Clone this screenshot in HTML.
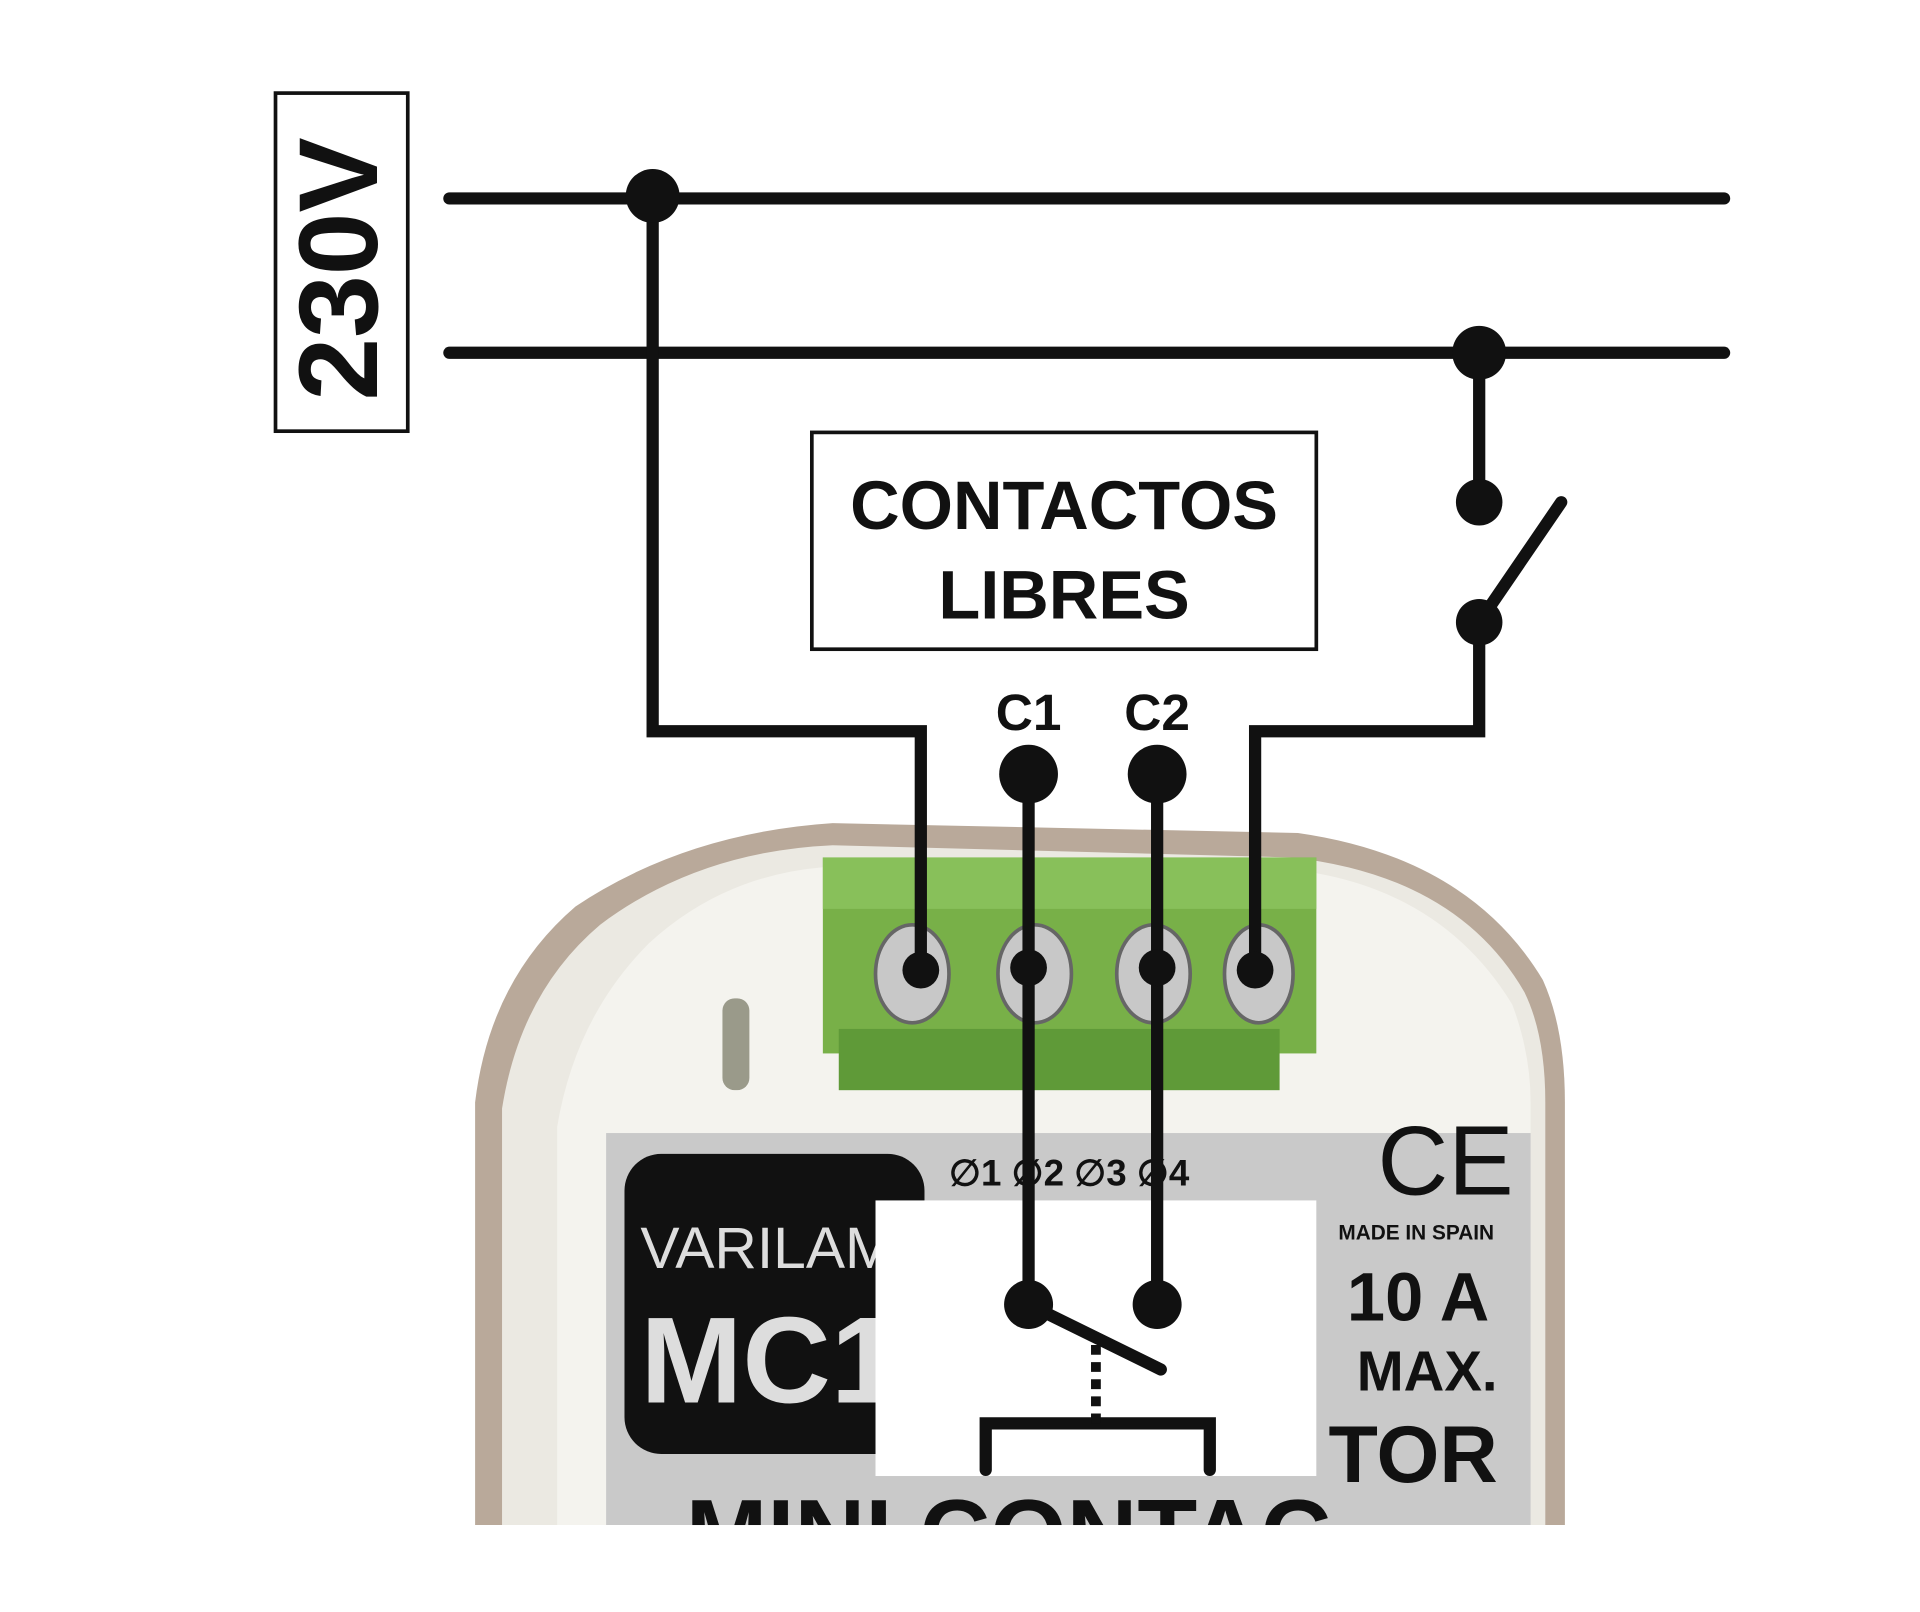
<!DOCTYPE html>
<html><head><meta charset="utf-8"><style>
html,body{margin:0;padding:0;background:#fff;}
svg{display:block;}
text{font-family:"Liberation Sans",sans-serif;font-weight:bold;}
</style></head><body>
<svg width="1920" height="1612" viewBox="0 0 1568 1316" preserveAspectRatio="none" xmlns="http://www.w3.org/2000/svg">
<rect width="1568" height="1316" fill="#fff"/>
<path d="M388 1245 L388 900 Q400 800 470 740 Q560 680 680 672 L1060 680 Q1200 700 1260 800 Q1278 840 1278 900 L1278 1245 Z" fill="#b9a99a"/>
<path d="M410 1245 L410 905 Q425 810 490 755 Q570 695 680 690 L1055 700 Q1190 715 1245 810 Q1262 845 1262 900 L1262 1245 Z" fill="#ebe9e2"/>
<path d="M455 1245 L455 920 Q470 830 530 770 Q590 715 672 708 L1070 712 Q1180 730 1235 820 Q1250 860 1250 900 L1250 1245 Z" fill="#f4f3ee"/>
<rect x="590" y="815" width="22" height="75" rx="10" fill="#9a9a8a"/>
<rect x="495" y="925" width="755" height="320" fill="#c9c9c9"/>
<rect x="510" y="942" width="245" height="245" rx="30" fill="#111"/>
<text x="523" y="1035" font-size="48" fill="#ddd" style="font-weight:normal">VARILAMP</text>
<text x="523" y="1145" font-size="100" fill="#ddd">MC1</text>
<text x="775" y="968" font-size="30" fill="#111">∅1 ∅2 ∅3 ∅4</text>
<text x="1125" y="975" font-size="80" fill="#111" style="font-weight:normal">CE</text>
<text x="1093" y="1012" font-size="17" fill="#111">MADE IN SPAIN</text>
<text x="1100" y="1078" font-size="56" fill="#111">10 A</text>
<text x="1108" y="1135" font-size="46" fill="#111">MAX.</text>
<text x="1085" y="1210" font-size="66" fill="#111">TOR</text>
<text x="560" y="1280" font-size="80" fill="#111">MINI CONTAC</text>
<rect x="0" y="1245" width="1568" height="71" fill="#fff"/>
<rect x="672" y="700" width="403" height="160" fill="#78b048"/>
<rect x="672" y="700" width="403" height="42" fill="#88c05a"/>
<rect x="685" y="840" width="360" height="50" fill="#5f9a38"/>
<g fill="#c8c8c8" stroke="#666" stroke-width="3">
<ellipse cx="745" cy="795" rx="30" ry="40"/>
<ellipse cx="845" cy="795" rx="30" ry="40"/>
<ellipse cx="942" cy="795" rx="30" ry="40"/>
<ellipse cx="1028" cy="795" rx="28" ry="40"/>
</g>
<rect x="715" y="980" width="360" height="225" fill="#fff"/>
<rect x="225" y="76" width="108" height="276" fill="#fff" stroke="#111" stroke-width="3"/>
<text transform="translate(308 327) rotate(-90)" font-size="92" fill="#111">230V</text>
<rect x="663" y="353" width="412" height="177" fill="#fff" stroke="#111" stroke-width="3"/>
<text x="869" y="432" font-size="56" text-anchor="middle" fill="#111">CONTACTOS</text>
<text x="869" y="505" font-size="56" text-anchor="middle" fill="#111">LIBRES</text>
<g stroke="#111" stroke-width="10" fill="none" stroke-linecap="round" stroke-linejoin="miter">
<line x1="367" y1="162" x2="1408" y2="162"/>
<line x1="367" y1="288" x2="1408" y2="288"/>
<polyline points="533,160 533,597 752,597 752,792"/>
<polyline points="1208,288 1208,410"/>
<line x1="1208" y1="508" x2="1275" y2="410"/>
<polyline points="1208,508 1208,597 1025,597 1025,792"/>
<line x1="840" y1="632" x2="840" y2="1065"/>
<line x1="945" y1="632" x2="945" y2="1065"/>
<line x1="840" y1="1065" x2="948" y2="1118"/>
<polyline points="805,1200 805,1162 988,1162 988,1200"/>
</g>
<line x1="895" y1="1098" x2="895" y2="1162" stroke="#111" stroke-width="8" stroke-dasharray="8,6"/>
<g fill="#111">
<circle cx="533" cy="160" r="22"/>
<circle cx="1208" cy="288" r="22"/>
<circle cx="1208" cy="410" r="19"/>
<circle cx="1208" cy="508" r="19"/>
<circle cx="840" cy="632" r="24"/>
<circle cx="945" cy="632" r="24"/>
<circle cx="752" cy="792" r="15"/>
<circle cx="840" cy="790" r="15"/>
<circle cx="945" cy="790" r="15"/>
<circle cx="1025" cy="792" r="15"/>
<circle cx="840" cy="1065" r="20"/>
<circle cx="945" cy="1065" r="20"/>
</g>
<text x="840" y="596" font-size="42" text-anchor="middle" fill="#111">C1</text>
<text x="945" y="596" font-size="42" text-anchor="middle" fill="#111">C2</text>
</svg>
</body></html>
